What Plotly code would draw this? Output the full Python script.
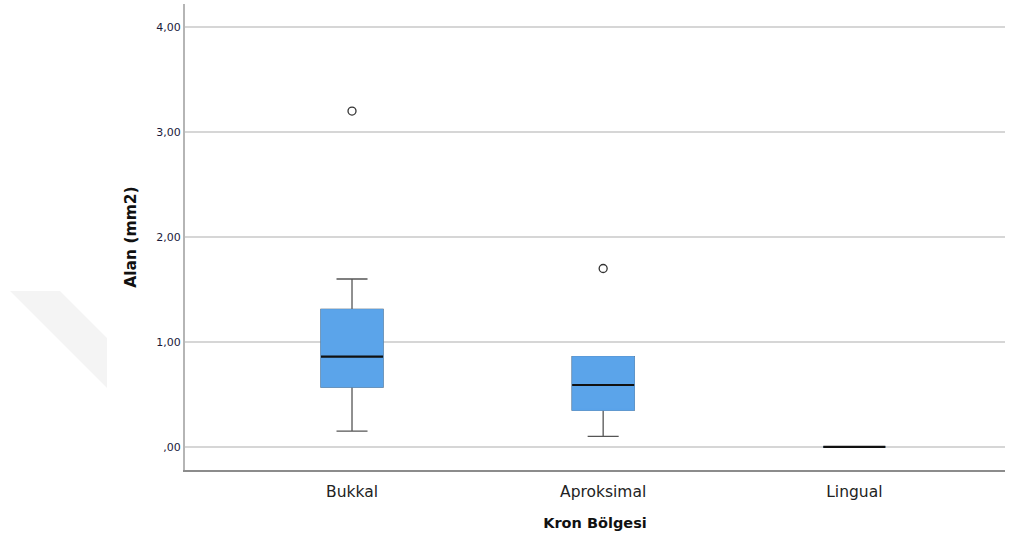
import plotly.graph_objects as go

# Crown regions and area (mm2) summary statistics
regions = ["Bukkal", "Aproksimal", "Lingual"]
q1 = [0.57, 0.35, 0.0]
median = [0.86, 0.59, 0.0]
q3 = [1.31, 0.86, 0.0]
lower_whisker = [0.15, 0.10, 0.0]
upper_whisker = [1.60, 0.86, 0.0]

outlier_regions = ["Bukkal", "Aproksimal"]
outlier_values = [3.20, 1.70]

tick_values = [0, 1, 2, 3, 4]
tick_labels = [",00", "1,00", "2,00", "3,00", "4,00"]

BOX_BLUE = "#5ba4ea"
WHISKER = "#555555"
BOX_W = 0.247

fig = go.Figure()

# whiskers and caps
fig.add_trace(go.Box(
    x=regions, q1=q1, median=median, q3=q3,
    lowerfence=lower_whisker, upperfence=upper_whisker,
    width=BOX_W, whiskerwidth=0.5,
    fillcolor=BOX_BLUE, line=dict(color=WHISKER, width=1.3),
    hoverinfo="skip", showlegend=False,
))

# filled box body, outlined in its own colour
fig.add_trace(go.Box(
    x=regions, q1=q1, median=q1, q3=q3,
    lowerfence=q1, upperfence=q3,
    width=BOX_W, whiskerwidth=0,
    fillcolor=BOX_BLUE, line=dict(color=BOX_BLUE, width=1),
    hoverinfo="skip", showlegend=False,
))

# median lines
fig.add_trace(go.Box(
    x=regions, q1=median, median=median, q3=median,
    lowerfence=median, upperfence=median,
    width=BOX_W, whiskerwidth=0,
    fillcolor="rgba(0,0,0,0)", line=dict(color="#111111", width=2.2),
    hoverinfo="skip", showlegend=False,
))

# outliers
fig.add_trace(go.Scatter(
    x=outlier_regions, y=outlier_values, mode="markers",
    marker=dict(symbol="circle-open", size=8, color="#333333",
                line=dict(width=1.3, color="#333333")),
    hoverinfo="skip", showlegend=False,
))

# faint diagonal band in the left margin
L, W, B, H = 185, 820, 470, 466
def px(x, y):
    return f"{(x - L) / W:.4f},{(B - y) / H:.4f}"
fig.add_shape(
    type="path", xref="paper", yref="paper",
    path=f"M {px(10, 291)} L {px(60, 291)} L {px(107, 338)} L {px(107, 388)} Z",
    fillcolor="rgba(0,0,0,0.045)", line=dict(width=0), layer="below",
)

fig.update_layout(
    width=1010, height=535,
    margin=dict(l=185, r=5, t=4, b=65),
    paper_bgcolor="white", plot_bgcolor="white",
    boxmode="overlay",
    font=dict(family="DejaVu Sans", color="#222222"),
    xaxis=dict(
        type="category", categoryorder="array", categoryarray=regions,
        range=[-0.665, 2.6],
        showgrid=False, showline=True, linecolor="#8c8c8c", linewidth=2,
        ticks="outside", ticklen=6, tickcolor="rgba(0,0,0,0)",
        tickfont=dict(size=15.5, color="#222222"),
        title=dict(text="<b>Kron Bölgesi</b>", font=dict(size=14.5, color="#111111"),
                   standoff=18),
        zeroline=False,
    ),
    yaxis=dict(
        range=[-0.22, 4.22],
        tickvals=tick_values, ticktext=tick_labels,
        showgrid=True, gridcolor="#d6d6d6", gridwidth=1.5,
        showline=True, linecolor="#b5b5b5", linewidth=2,
        ticks="", tickfont=dict(size=11, color="#1a1a3a"),
        title=dict(text="<b>Alan (mm2)</b>", font=dict(size=15.5, color="#111111"),
                   standoff=16),
        zeroline=False,
    ),
)

fig.write_html("out.html")
